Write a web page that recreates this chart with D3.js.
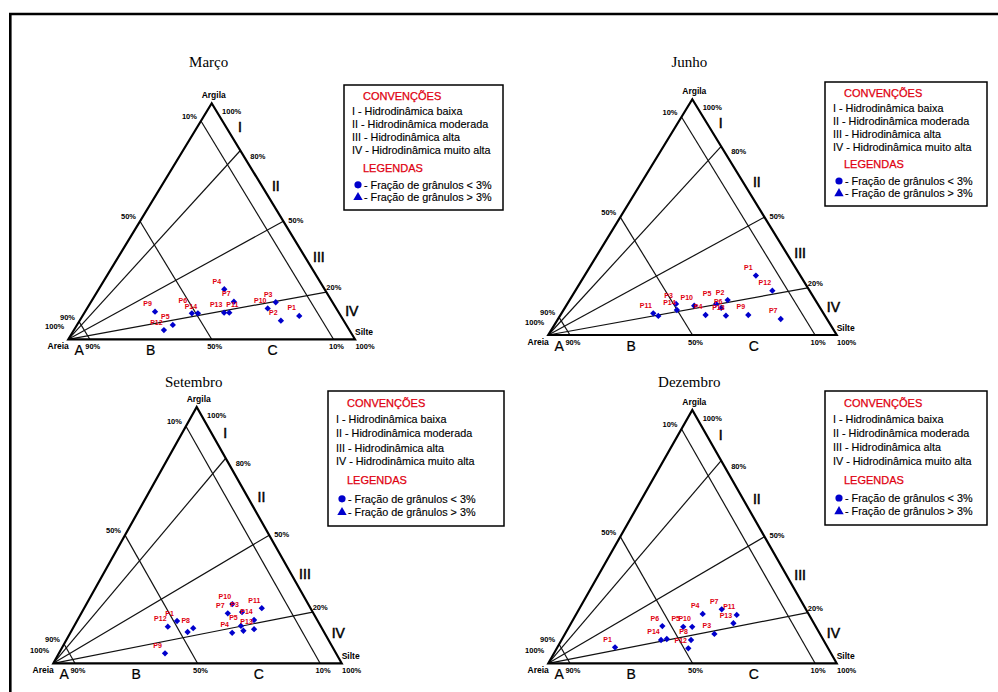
<!DOCTYPE html>
<html><head><meta charset="utf-8">
<script src="https://cdn.jsdelivr.net/npm/d3@7"></script>
<style>body{margin:0;background:#fff}svg{display:block}</style>
</head><body>
<svg id="c" width="998" height="692"></svg>
<script>
// ---------------- DATA ----------------
const panelTitles = ["Março", "Junho", "Setembro", "Dezembro"];

const marcoLabels = ["P9","P12","P5","P14","P6","P13","P11","P7","P4","P3","P10","P2","P1"];
const marcoSand   = [63.9,64.7,60.5,51.4,49.3,40.0,38.2,34.3,35.0,19.8,23.9,21.9,14.5];
const marcoSilt   = [24.4,31.4,33.4,37.6,39.7,48.7,50.5,49.8,43.8,64.5,63.0,70.2,75.6];
const marcoClay   = [11.7, 3.9, 6.1,11.0,11.0,11.3,11.3,15.9,21.2,15.7,13.1, 7.9, 9.9];

const junhoLabels = ["P1","P12","P2","P5","P6","P10","P14","P3","P11","","P4","P13","P9","P7"];
const junhoSand   = [15.4,12.9,30.4,35.2,34.3,43.2,50.1,49.1,59.0,57.8,41.2,34.3,26.4,16.0];
const junhoSilt   = [59.4,68.3,54.8,51.6,54.2,44.4,39.3,37.7,31.8,34.1,50.3,57.5,65.1,77.2];
const junhoClay   = [25.2,18.8,14.8,13.2,11.5,12.4,10.6,13.2, 9.2, 8.1, 8.5, 8.2, 8.5, 6.8];

const setembroLabels = ["P12","P1","","P8","P9","P10","P7","P3","P11","P14","P5","P13","P4",""];
const setembroSand   = [53.1,48.8,47.3,44.6,59.3,26.3,29.7,24.5,16.9,21.9,27.6,23.7,32.0,27.7];
const setembroSilt   = [32.6,34.7,40.5,41.7,36.8,50.6,50.8,55.5,61.6,61.2,57.8,63.0,56.1,59.6];
const setembroClay   = [14.3,16.5,12.2,13.7, 3.9,23.1,19.5,20.0,21.5,16.9,14.6,13.3,11.9,12.7];

const dezembroLabels = ["P1","P14","","P6","P5","P10","P8","P12","P4","P3","P7","P11","P13"];
const dezembroSand   = [73.7,56.3,54.1,53.1,46.0,42.9,45.9,48.5,36.7,36.6,29.2,25.1,27.9];
const dezembroSilt   = [20.0,34.5,36.3,32.2,39.6,42.7,44.9,45.6,43.8,51.8,49.5,55.8,56.3];
const dezembroClay   = [ 6.3, 9.2, 9.6,14.7,14.4,14.4, 9.2, 5.9,19.5,11.6,21.3,19.1,15.8];

// reference lines (sand %) and their printed labels
const sandLines = [92.5, 50, 7.5];
const sandLineLabels = ["90%", "50%", "10%"];
// clay % of the mud fraction (lines from the Areia corner)
const ratioLines = [80, 50, 20];
const ratioLabels = ["80%", "50%", "20%"];
const sectorNames = ["I", "II", "III", "IV"];
const sectorMid = [90, 65, 35, 12];
const classNames = ["A", "B", "C"];
const classMid = [96.25, 71.25, 28.75];

const conventionsTitle = "CONVENÇÕES";
const conventions = ["I - Hidrodinâmica baixa", "II - Hidrodinâmica moderada",
  "III - Hidrodinâmica alta", "IV - Hidrodinâmica muito alta"];
const legendTitle = "LEGENDAS";
const legendItems = ["- Fração de grânulos < 3%", "- Fração de grânulos > 3%"];

const panels = [
  {labels: marcoLabels, sand: marcoSand, silt: marcoSilt, clay: marcoClay},
  {labels: junhoLabels, sand: junhoSand, silt: junhoSilt, clay: junhoClay},
  {labels: setembroLabels, sand: setembroSand, silt: setembroSilt, clay: setembroClay},
  {labels: dezembroLabels, sand: dezembroSand, silt: dezembroSilt, clay: dezembroClay}
];

// ---------------- LAYOUT ----------------
const layout = [
  {A:[68.3,339.3], S:[355,339.3], C:[211.7,103.3], titleY:67, legend:{x:344,y:85,w:159,h:125}},
  {A:[548.3,335], S:[836.7,335], C:[692.3,99.3], titleY:67, legend:{x:825,y:82,w:162,h:124}},
  {A:[53.3,663.3], S:[341.7,663.3], C:[196.7,407], titleY:387, legend:{x:328,y:391,w:176,h:135}},
  {A:[548.3,663.3], S:[836.7,663.3], C:[692.3,410], titleY:387, legend:{x:825,y:391,w:162,h:134}}
];
const RED = "#e00010", BLUE = "#0000cc";
const SANS = "'Liberation Sans', Arial, sans-serif";
const labelOffset = {"0:P14":[-1,-7], "0:P6":[-15,-13], "0:P11":[3,-8], "0:P13":[-8,-8],
                     "1:P5":[-9,-10], "1:P6":[-3,-6]};

const svg = d3.select("#c");
svg.append("rect").attr("width",998).attr("height",692).attr("fill","#fff");
svg.append("path").attr("d","M10.3,692 V14 H998").attr("fill","none")
  .attr("stroke","#000").attr("stroke-width",2.6);

const line = d3.line();

panels.forEach((pd, i) => {
  const g = layout[i];
  const gg = svg.append("g");
  const sx = d3.scaleLinear().domain([0,100]).range([0, g.S[0]-g.A[0]]);
  const cxs = d3.scaleLinear().domain([0,100]).range([0, g.C[0]-g.A[0]]);
  const cy = d3.scaleLinear().domain([0,100]).range([g.A[1], g.C[1]]);
  const P = (sand, silt, clay) => {
    const t = sand + silt + clay;
    const si = silt*100/t, cl = clay*100/t;
    return [g.A[0] + sx(si) + cxs(cl), cy(cl)];
  };
  const txt = (x, y, s, size, opt={}) => gg.append("text").attr("x",x).attr("y",y)
      .attr("font-family", opt.family || SANS).attr("font-size", size)
      .attr("font-weight", opt.bold ? "bold" : "normal")
      .attr("text-anchor", opt.anchor || "middle").attr("fill", opt.fill || "#000").text(s);

  // title
  txt(g.C[0]-3, g.titleY, panelTitles[i], 15, {family:"'Liberation Serif', 'Times New Roman', serif"});

  // inner lines: constant sand
  sandLines.forEach((s, k) => {
    const a = P(s, 0, 100-s), b = P(s, 100-s, 0);
    gg.append("path").attr("d", line([a,b])).attr("stroke","#111").attr("stroke-width",1.2).attr("fill","none");
    txt(a[0]-4, a[1]-2, sandLineLabels[k], 7.5, {bold:true, anchor:"end"});
    txt(b[0]+3, b[1]+10, sandLineLabels[k], 7.5, {bold:true});
  });
  // ratio lines from sand corner
  const rdx = [10, 5, 0], rdy = [8, 1.5, -2];
  ratioLines.forEach((r, k) => {
    const a = P(100, 0, 0), b = P(0, 100-r, r);
    gg.append("path").attr("d", line([a,b])).attr("stroke","#111").attr("stroke-width",1.2).attr("fill","none");
    txt(b[0]+rdx[k], b[1]+rdy[k], ratioLabels[k], 7.5, {bold:true, anchor:"start"});
  });
  // triangle
  gg.append("path").attr("d", line([g.A, g.S, g.C]) + "Z").attr("stroke","#000")
    .attr("stroke-width",2.2).attr("fill","none").attr("stroke-linejoin","miter");

  // corner labels
  txt(g.C[0]+2, g.C[1]-5, "Argila", 8.5, {bold:true});
  txt(g.C[0]+20, g.C[1]+11, "100%", 7.5, {bold:true});
  txt(g.A[0]-4, g.A[1]-10, "100%", 7.5, {bold:true, anchor:"end"});
  txt(g.A[0]+0.5, g.A[1]+10, "Areia", 8.5, {bold:true, anchor:"end"});
  txt(g.S[0], g.S[1]-4, "Silte", 8.5, {bold:true, anchor:"start"});
  txt(g.S[0]+10, g.S[1]+10, "100%", 7.5, {bold:true});

  // sector numerals
  sectorNames.forEach((s, k) => {
    const e = P(0, 100-sectorMid[k], sectorMid[k]);
    txt(e[0]+14, e[1]+5, s, 14).attr("stroke","#000").attr("stroke-width",0.5);
  });
  // class letters
  classNames.forEach((s, k) => {
    const b = P(classMid[k], 100-classMid[k], 0);
    txt(b[0], b[1]+16, s, 14).attr("stroke","#000").attr("stroke-width",0.2);
  });

  // data points
  const pts = pd.labels.map((l, j) => ({label:l, p:P(pd.sand[j], pd.silt[j], pd.clay[j])}));
  gg.selectAll("path.pt").data(pts).join("path").attr("class","pt")
    .attr("d", d3.symbol().type(d3.symbolSquare).size(20))
    .attr("transform", d => `translate(${d.p[0]},${d.p[1]}) rotate(45)`)
    .attr("fill", BLUE);
  gg.selectAll("text.lb").data(pts.filter(d => d.label)).join("text").attr("class","lb")
    .attr("x", d => d.p[0] + (labelOffset[i+":"+d.label] || [-7.5,-8])[0])
    .attr("y", d => d.p[1] + (labelOffset[i+":"+d.label] || [-7.5,-8])[1] + 2.5)
    .attr("text-anchor","middle").attr("font-family",SANS).attr("font-size",7)
    .attr("font-weight","bold").attr("fill",RED).text(d => d.label);

  // legend box
  const L = g.legend, k = L.h/124;
  gg.append("rect").attr("x",L.x).attr("y",L.y).attr("width",L.w).attr("height",L.h)
    .attr("fill","#fff").attr("stroke","#000").attr("stroke-width",1.5);
  const rows = [11, 26, 39, 52, 64.5, 82, 99, 111].map(v => L.y + v*k + 4);
  txt(L.x+19, rows[0], conventionsTitle, 11, {anchor:"start", fill:RED}).attr("stroke",RED).attr("stroke-width",0.25);
  conventions.forEach((c, j) => txt(L.x+8, rows[1+j], c, 10.8, {anchor:"start"}).attr("stroke","#000").attr("stroke-width",0.15));
  txt(L.x+19, rows[5], legendTitle, 11, {anchor:"start", fill:RED}).attr("stroke",RED).attr("stroke-width",0.25);
  gg.append("circle").attr("cx",L.x+14).attr("cy",rows[6]-4).attr("r",3.6).attr("fill",BLUE);
  gg.append("path").attr("d", d3.symbol().type(d3.symbolTriangle).size(38))
    .attr("transform",`translate(${L.x+14},${rows[7]-3.5})`).attr("fill",BLUE);
  legendItems.forEach((c, j) => txt(L.x+20, rows[6+j], c, 10.8, {anchor:"start"}).attr("stroke","#000").attr("stroke-width",0.15));
});
</script>
</body></html>
